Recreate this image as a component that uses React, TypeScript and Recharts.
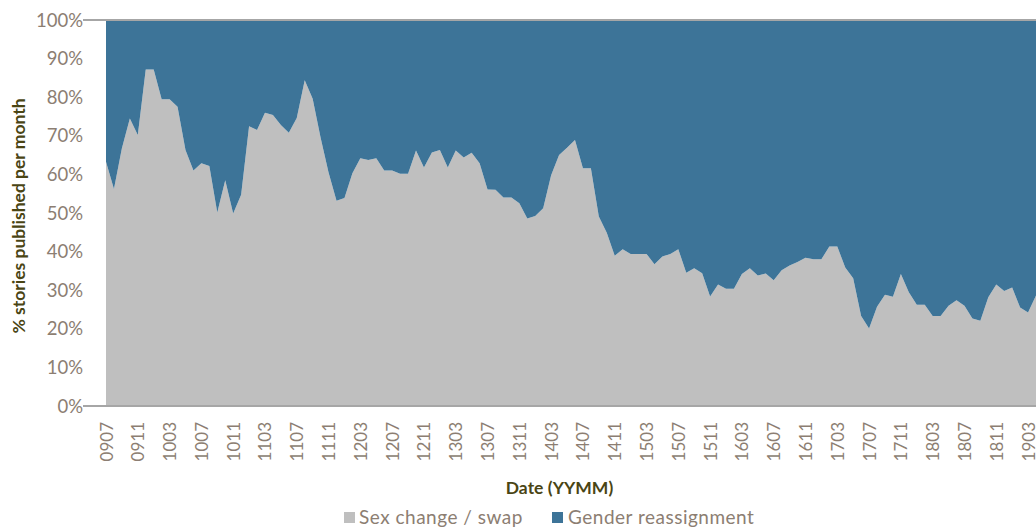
import React from "react";
import { AreaChart, Area, XAxis, YAxis, ReferenceLine } from "recharts";

const months: string[] = [
  "0907","0908","0909","0910","0911","0912",
  "1001","1002","1003","1004","1005","1006","1007","1008","1009","1010","1011","1012",
  "1101","1102","1103","1104","1105","1106","1107","1108","1109","1110","1111","1112",
  "1201","1202","1203","1204","1205","1206","1207","1208","1209","1210","1211","1212",
  "1301","1302","1303","1304","1305","1306","1307","1308","1309","1310","1311","1312",
  "1401","1402","1403","1404","1405","1406","1407","1408","1409","1410","1411","1412",
  "1501","1502","1503","1504","1505","1506","1507","1508","1509","1510","1511","1512",
  "1601","1602","1603","1604","1605","1606","1607","1608","1609","1610","1611","1612",
  "1701","1702","1703","1704","1705","1706","1707","1708","1709","1710","1711","1712",
  "1801","1802","1803","1804","1805","1806","1807","1808","1809","1810","1811","1812",
  "1901","1902","1903","1904",
];

const sexChange: number[] = [
  63.3, 56.2, 66.8, 74.5, 70.2, 87.2, 87.2, 79.5, 79.5, 77.5,
  66.3, 61.0, 62.9, 62.2, 50.1, 58.5, 49.9, 54.7, 72.5, 71.5,
  76.0, 75.4, 72.8, 70.8, 74.6, 84.4, 79.6, 69.5, 60.5, 53.2,
  53.9, 60.3, 64.2, 63.7, 64.2, 61.0, 61.0, 60.2, 60.2, 66.2,
  61.8, 65.7, 66.3, 61.8, 66.2, 64.4, 65.6, 62.9, 56.1, 56.0,
  54.0, 54.0, 52.5, 48.6, 49.2, 51.2, 59.8, 65.0, 66.9, 68.9,
  61.6, 61.6, 49.1, 44.9, 38.9, 40.6, 39.4, 39.4, 39.4, 36.7,
  38.7, 39.4, 40.6, 34.5, 35.7, 34.4, 28.4, 31.5, 30.4, 30.4,
  34.2, 35.7, 33.8, 34.3, 32.6, 35.2, 36.4, 37.3, 38.4, 38.0,
  38.0, 41.3, 41.3, 35.9, 33.1, 23.3, 20.1, 25.7, 28.8, 28.3,
  34.2, 29.5, 26.2, 26.2, 23.3, 23.3, 26.0, 27.4, 26.0, 22.7,
  22.1, 28.2, 31.5, 29.8, 30.7, 25.5, 24.2, 28.6,
];

const genderReassignment: number[] = [
  36.7, 43.8, 33.2, 25.5, 29.8, 12.8, 12.8, 20.5, 20.5, 22.5,
  33.7, 39.0, 37.1, 37.8, 49.9, 41.5, 50.1, 45.3, 27.5, 28.5,
  24.0, 24.6, 27.2, 29.2, 25.4, 15.6, 20.4, 30.5, 39.5, 46.8,
  46.1, 39.7, 35.8, 36.3, 35.8, 39.0, 39.0, 39.8, 39.8, 33.8,
  38.2, 34.3, 33.7, 38.2, 33.8, 35.6, 34.4, 37.1, 43.9, 44.0,
  46.0, 46.0, 47.5, 51.4, 50.8, 48.8, 40.2, 35.0, 33.1, 31.1,
  38.4, 38.4, 50.9, 55.1, 61.1, 59.4, 60.6, 60.6, 60.6, 63.3,
  61.3, 60.6, 59.4, 65.5, 64.3, 65.6, 71.6, 68.5, 69.6, 69.6,
  65.8, 64.3, 66.2, 65.7, 67.4, 64.8, 63.6, 62.7, 61.6, 62.0,
  62.0, 58.7, 58.7, 64.1, 66.9, 76.7, 79.9, 74.3, 71.2, 71.7,
  65.8, 70.5, 73.8, 73.8, 76.7, 76.7, 74.0, 72.6, 74.0, 77.3,
  77.9, 71.8, 68.5, 70.2, 69.3, 74.5, 75.8, 71.4,
];

const yTicks: number[] = [0, 10, 20, 30, 40, 50, 60, 70, 80, 90, 100];

const seriesNames = ["Sex change / swap", "Gender reassignment"];
const xTitle = "Date (YYMM)";
const yTitle = "% stories published per month";

const GRAY = "#BFBFBF";
const BLUE = "#3D7498";
const TICK = "#8C7E72";
const TITLE = "#4A4514";
const FONT = "Lato, 'Open Sans', sans-serif";

const data = months.map((m, i) => ({
  month: m,
  sex: sexChange[i],
  gender: genderReassignment[i],
}));

const XTick = (props: any) => {
  const { x, y, payload } = props;
  return (
    <g transform={`translate(${x},${y})`}>
      <text
        transform="rotate(-90)"
        textAnchor="end"
        dominantBaseline="central"
        fill={TICK}
        fontSize={17}
        fontFamily={FONT}
      >
        {payload.value}
      </text>
    </g>
  );
};

const XTitle = () => (
  <text
    x={559.5}
    y={487}
    textAnchor="middle"
    dominantBaseline="central"
    fill={TITLE}
    fontSize={17.5}
    fontWeight="bold"
    fontFamily={FONT}
  >
    {xTitle}
  </text>
);

const YTitle = () => (
  <text
    x={18}
    y={216}
    transform="rotate(-90, 18, 216)"
    textAnchor="middle"
    dominantBaseline="central"
    fill={TITLE}
    fontSize={17.5}
    fontWeight="bold"
    fontFamily={FONT}
  >
    {yTitle}
  </text>
);

const legendText: React.CSSProperties = {
  position: "absolute",
  top: 506,
  fontSize: 19,
  lineHeight: "22px",
  letterSpacing: "0.5px",
  color: TICK,
  fontFamily: FONT,
  whiteSpace: "nowrap",
};

export default function App() {
  return (
    <div style={{ position: "absolute", left: 0, top: 0, width: 1036, height: 528, background: "#fff", overflow: "hidden" }}>
      <AreaChart
        width={1036}
        height={528}
        data={data}
        margin={{ top: 20, right: 0, bottom: 0, left: 0 }}
      >
        <XAxis
          dataKey="month"
          interval={3}
          padding={{ left: 23, right: 0 }}
          height={122}
          tickSize={0}
          tickMargin={16}
          tick={<XTick />}
          axisLine={{ stroke: "#A6A6A6", strokeWidth: 2 }}
          tickLine={false}
          label={<XTitle />}
        />
        <YAxis
          width={83}
          domain={[0, 100]}
          allowDataOverflow
          ticks={yTicks}
          interval={0}
          tickFormatter={(v: number) => `${v}%`}
          tickSize={0}
          tickMargin={0}
          axisLine={false}
          tickLine={false}
          tick={{ fill: TICK, fontSize: 18.5, fontFamily: FONT }}
          label={<YTitle />}
        />
        <Area
          type="linear"
          dataKey="sex"
          name={seriesNames[0]}
          stackId="1"
          stroke="none"
          fill={GRAY}
          fillOpacity={1}
          isAnimationActive={false}
        />
        <Area
          type="linear"
          dataKey="gender"
          name={seriesNames[1]}
          stackId="1"
          stroke="none"
          fill={BLUE}
          fillOpacity={1}
          isAnimationActive={false}
        />
        <ReferenceLine y={100} stroke="#A6A6A6" strokeWidth={2} ifOverflow="extendDomain" />
      </AreaChart>
      <div style={{ position: "absolute", left: 344, top: 512, width: 11, height: 11, background: GRAY }} />
      <div style={{ ...legendText, left: 359 }}>{seriesNames[0]}</div>
      <div style={{ position: "absolute", left: 552, top: 512, width: 11, height: 11, background: BLUE }} />
      <div style={{ ...legendText, left: 568 }}>{seriesNames[1]}</div>
    </div>
  );
}
